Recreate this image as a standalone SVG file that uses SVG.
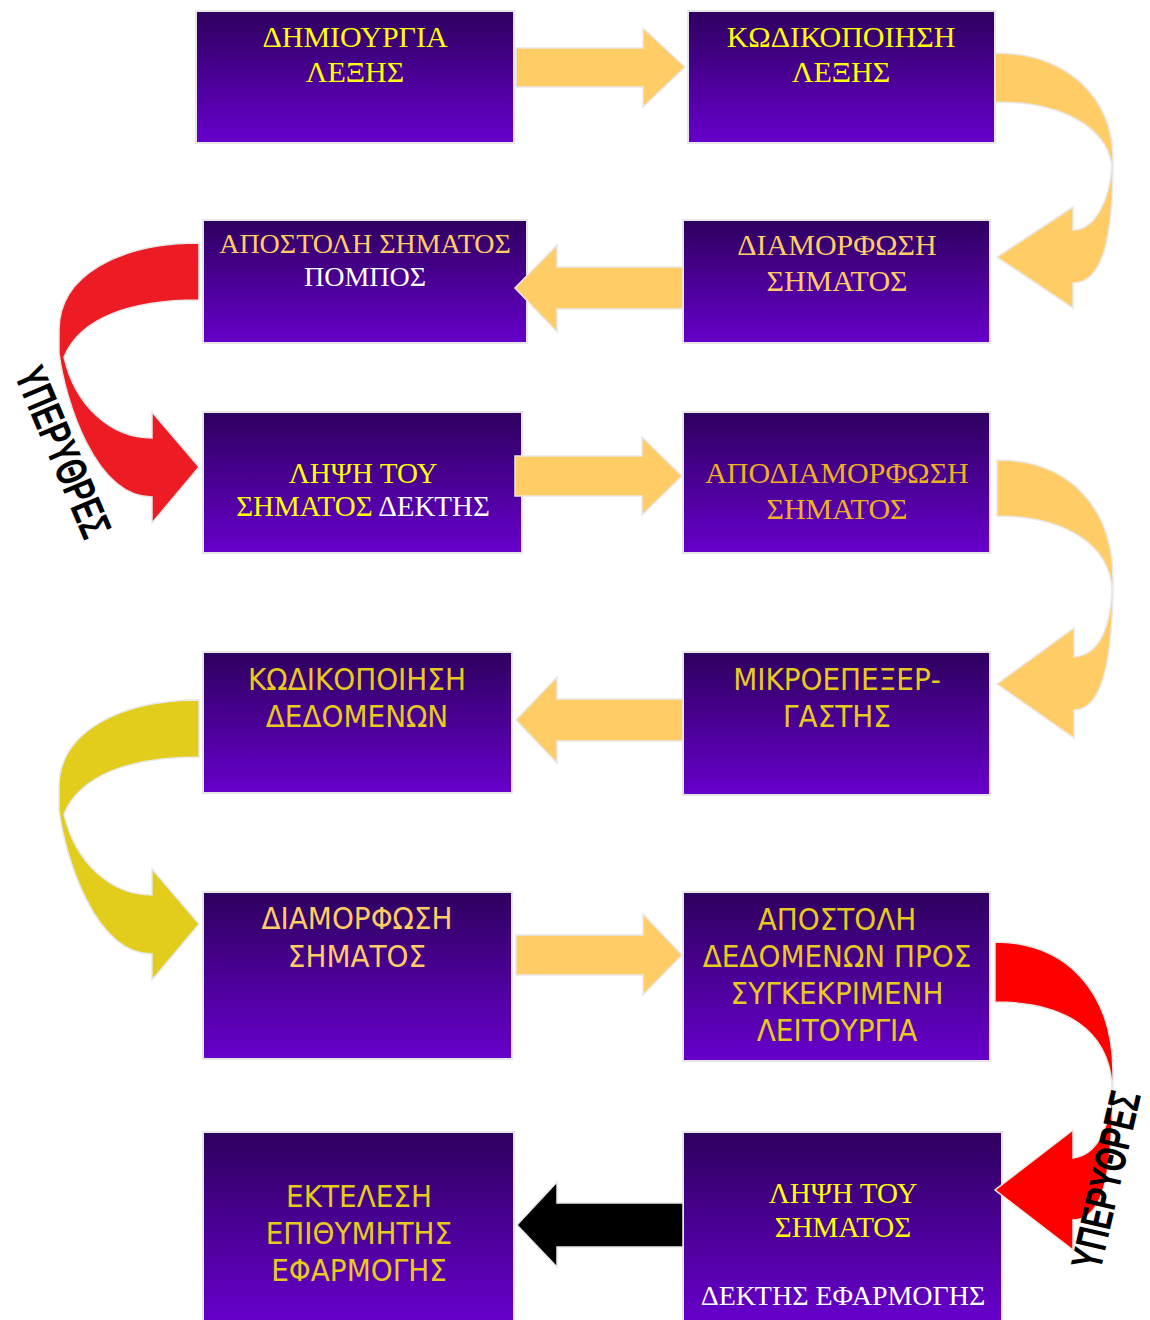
<svg xmlns="http://www.w3.org/2000/svg" width="1150" height="1320" viewBox="0 0 1150 1320">
<defs>
<linearGradient id="boxg" x1="0" y1="0" x2="0" y2="1">
<stop offset="0" stop-color="#2E005E"/>
<stop offset="1" stop-color="#6700CC"/>
</linearGradient>
<style>
.box{fill:url(#boxg);stroke:#E6E6E6;stroke-width:2}
.serif{font-family:"Liberation Serif","Times New Roman",serif;text-anchor:middle}
.sans{font-family:"DejaVu Sans",Verdana,sans-serif;font-stretch:condensed;text-anchor:middle;font-size:31px}
.yel{fill:#FFFF00}
.org{fill:#FFCC66}
.gld{fill:#E8CA1F}
.amb{fill:#EFB022}
.wht{fill:#FFFFFF}
.arr{stroke:#E8E8E8;stroke-width:1.5;stroke-linejoin:miter}
.lbl{font-family:"Liberation Sans",Arial,sans-serif;font-size:44px;font-weight:bold;fill:#000;text-anchor:middle}
</style>
</defs>
<rect width="1150" height="1320" fill="#FFFFFF"/>

<g id="node-dimiourgia">
<rect class="box" x="196" y="11" width="318" height="132"/>
<text class="serif yel" font-size="30" x="355" y="47">ΔΗΜΙΟΥΡΓΙΑ</text>
<text class="serif yel" font-size="30" x="355" y="82">ΛΕΞΗΣ</text>
</g>
<g id="node-kodikopoiisi-lexis">
<rect class="box" x="688" y="11" width="307" height="132"/>
<text class="serif yel" font-size="30" x="841" y="47">ΚΩΔΙΚΟΠΟΙΗΣΗ</text>
<text class="serif yel" font-size="30" x="841" y="82">ΛΕΞΗΣ</text>
</g>
<g id="node-diamorfosi-1">
<rect class="box" x="683" y="220" width="307" height="123"/>
<text class="serif org" font-size="30" x="837" y="255">ΔΙΑΜΟΡΦΩΣΗ</text>
<text class="serif org" font-size="30" x="837" y="291">ΣΗΜΑΤΟΣ</text>
</g>
<g id="node-apostoli-pompos">
<rect class="box" x="203" y="220" width="324" height="123"/>
<text class="serif org" font-size="28" x="365" y="253">ΑΠΟΣΤΟΛΗ ΣΗΜΑΤΟΣ</text>
<text class="serif wht" font-size="28" x="365" y="286">ΠΟΜΠΟΣ</text>
</g>
<g id="node-lipsi-dektis">
<rect class="box" x="203" y="412" width="319" height="141"/>
<text class="serif yel" font-size="29" x="363" y="483">ΛΗΨΗ ΤΟΥ</text>
<text class="serif" font-size="29" x="363" y="516"><tspan class="yel">ΣΗΜΑΤΟΣ </tspan><tspan class="wht">ΔΕΚΤΗΣ</tspan></text>
</g>
<g id="node-apodiamorfosi">
<rect class="box" x="683" y="412" width="307" height="141"/>
<text class="serif amb" font-size="30" x="837" y="483">ΑΠΟΔΙΑΜΟΡΦΩΣΗ</text>
<text class="serif amb" font-size="30" x="837" y="519">ΣΗΜΑΤΟΣ</text>
</g>
<g id="node-mikroepexergastis">
<rect class="box" x="683" y="652" width="307" height="143"/>
<text class="sans gld" x="837" y="690">ΜΙΚΡΟΕΠΕΞΕΡ-</text>
<text class="sans gld" x="837" y="727">ΓΑΣΤΗΣ</text>
</g>
<g id="node-kodikopoiisi-dedomenon">
<rect class="box" x="203" y="652" width="309" height="141"/>
<text class="sans gld" x="357" y="690">ΚΩΔΙΚΟΠΟΙΗΣΗ</text>
<text class="sans gld" x="357" y="727">ΔΕΔΟΜΕΝΩΝ</text>
</g>
<g id="node-diamorfosi-2">
<rect class="box" x="203" y="892" width="309" height="167"/>
<text class="sans org" x="357" y="929">ΔΙΑΜΟΡΦΩΣΗ</text>
<text class="sans org" x="357" y="967">ΣΗΜΑΤΟΣ</text>
</g>
<g id="node-apostoli-dedomenon">
<rect class="box" x="683" y="892" width="307" height="169"/>
<text class="sans gld" x="837" y="930">ΑΠΟΣΤΟΛΗ</text>
<text class="sans gld" x="837" y="967">ΔΕΔΟΜΕΝΩΝ ΠΡΟΣ</text>
<text class="sans gld" x="837" y="1004">ΣΥΓΚΕΚΡΙΜΕΝΗ</text>
<text class="sans gld" x="837" y="1041">ΛΕΙΤΟΥΡΓΙΑ</text>
</g>
<g id="node-lipsi-efarmogis">
<rect class="box" x="683" y="1132" width="319" height="190"/>
<text class="serif yel" font-size="29" x="843" y="1203">ΛΗΨΗ ΤΟΥ</text>
<text class="serif yel" font-size="29" x="843" y="1237">ΣΗΜΑΤΟΣ</text>
<text class="serif wht" font-size="28" x="843" y="1305">ΔΕΚΤΗΣ ΕΦΑΡΜΟΓΗΣ</text>
</g>
<g id="node-ektelesi">
<rect class="box" x="203" y="1132" width="311" height="190"/>
<text class="sans gld" x="359" y="1207">ΕΚΤΕΛΕΣΗ</text>
<text class="sans gld" x="359" y="1244">ΕΠΙΘΥΜΗΤΗΣ</text>
<text class="sans gld" x="359" y="1281">ΕΦΑΡΜΟΓΗΣ</text>
</g>

<g id="connectors">
<path class="arr" fill="#FFCC66" d="M516,48 L643,48 L643,28 L685,67 L643,107 L643,87 L516,87 Z"/>
<path class="arr" fill="#FFCC66" d="M995,53 C1065,53 1113,95 1113,160 C1113,230 1105,283 1073,283 L1073,308 L997,257 L1073,207 L1073,230 C1095,230 1110,200 1112,165 C1105,125 1060,102 995,102 Z"/>
<path class="arr" fill="#FFCC66" d="M683,267 L557,267 L557,245 L515,288 L557,332 L557,309 L683,309 Z"/>
<path class="arr" fill="#ED1C24" d="M199,243 C120,243 59,275 59,330 L59,353 C65,400 95,497 152,497 L152,523 L199,467 L152,412 L152,438 C110,438 75,405 64,357 C80,318 130,300 199,300 Z"/>
<path class="arr" fill="#FFCC66" d="M515,456 L642,456 L642,437 L682,476 L642,515 L642,496 L515,496 Z"/>
<path class="arr" fill="#FFCC66" d="M997,460 C1067,460 1113,505 1113,580 C1113,650 1105,710 1074,710 L1074,738 L997,684 L1074,628 L1074,657 C1098,655 1110,630 1112,590 C1110,545 1065,516 997,516 Z"/>
<path class="arr" fill="#FFCC66" d="M683,699 L557,699 L557,677 L516,720 L557,763 L557,741 L683,741 Z"/>
<path class="arr" fill="#E3CD1C" d="M199,700 C120,700 59,732 59,787 L59,810 C65,857 95,954 152,954 L152,980 L199,924 L152,869 L152,895 C110,895 75,862 64,814 C80,775 130,757 199,757 Z"/>
<path class="arr" fill="#FFCC66" d="M516,935 L643,935 L643,914 L682,955 L643,995 L643,975 L516,975 Z"/>
<path class="arr" fill="#FF0000" d="M995,942 C1065,942 1113,990 1113,1073 C1113,1170 1105,1220 1073,1220 L1073,1250 L995,1190 L1073,1130 L1073,1158 C1100,1155 1112,1120 1112,1085 C1108,1030 1065,1002 995,1002 Z"/>
<path class="arr" fill="#000000" d="M683,1203 L557,1203 L557,1182 L517,1225 L557,1267 L557,1247 L683,1247 Z"/>
<text class="lbl" transform="translate(63,452) rotate(67) scale(0.68,1)" y="15">ΥΠΕΡΥΘΡΕΣ</text>
<text class="lbl" transform="translate(1106,1180) rotate(-77) scale(0.68,1)" y="15">ΥΠΕΡΥΘΡΕΣ</text>
</g>
</svg>
